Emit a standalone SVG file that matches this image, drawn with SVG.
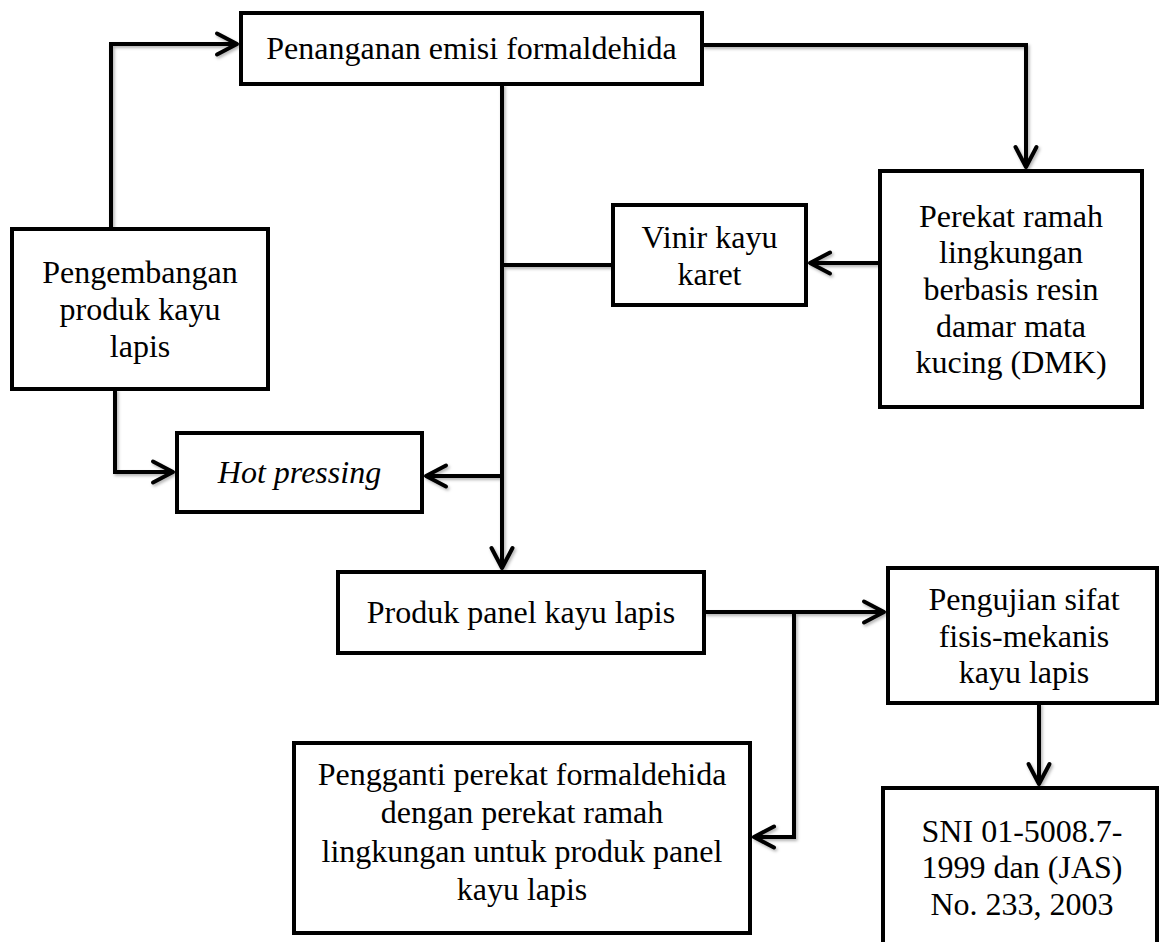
<svg xmlns="http://www.w3.org/2000/svg" width="1160" height="942" viewBox="0 0 1160 942">
<style>
.box{fill:#fff;stroke:#000;stroke-width:4}
.t{font-family:"Liberation Serif","Times New Roman",serif;font-size:32px;fill:#000;text-anchor:middle}
.i{font-style:italic}
.c{fill:none;stroke:#000;stroke-width:4;stroke-linejoin:miter}
</style>
<defs>
<marker id="arr" markerUnits="userSpaceOnUse" markerWidth="34" markerHeight="34" viewBox="-28 -17 34 34" refX="0" refY="0" orient="auto">
<path d="M-20,-10.5 L0,0 L-20,10.5" fill="none" stroke="#000" stroke-width="4" stroke-linecap="round" stroke-linejoin="round"/>
</marker>
<filter id="sh" x="-10%" y="-10%" width="120%" height="120%">
<feDropShadow dx="1.5" dy="2" stdDeviation="1.5" flood-color="#000" flood-opacity="0.3"/>
</filter>
</defs>
<rect width="1160" height="942" fill="#fff"/>
<g id="connectors" filter="url(#sh)">
<path class="c" d="M111,229 L111,44 L237,44" marker-end="url(#arr)"/>
<path class="c" d="M702,45 L1026,45 L1026,167" marker-end="url(#arr)"/>
<path class="c" d="M502,84 L502,568" marker-end="url(#arr)"/>
<path class="c" d="M502,265 L613,265"/>
<path class="c" d="M880,263 L810,263" marker-end="url(#arr)"/>
<path class="c" d="M502,476 L426,476" marker-end="url(#arr)"/>
<path class="c" d="M115,389 L115,472 L173,472" marker-end="url(#arr)"/>
<path class="c" d="M704,612 L884,612" marker-end="url(#arr)"/>
<path class="c" d="M794,612 L794,837 L754,837" marker-end="url(#arr)"/>
<path class="c" d="M1039,703 L1039,784" marker-end="url(#arr)"/>
</g>
<g id="n-penanganan">
<rect class="box" x="241" y="13" width="461" height="71"/>
<text class="t" x="471.5" y="59">Penanganan emisi formaldehida</text>
</g>
<g id="n-pengembangan">
<rect class="box" x="12" y="229" width="256" height="160"/>
<text class="t" x="140" y="283">Pengembangan</text>
<text class="t" x="140" y="320">produk kayu</text>
<text class="t" x="140" y="357">lapis</text>
</g>
<g id="n-vinir">
<rect class="box" x="613" y="205" width="193" height="100"/>
<text class="t" x="709.5" y="248">Vinir kayu</text>
<text class="t" x="709.5" y="285">karet</text>
</g>
<g id="n-perekat">
<rect class="box" x="880" y="171" width="262" height="236"/>
<text class="t" x="1011" y="227">Perekat ramah</text>
<text class="t" x="1011" y="263">lingkungan</text>
<text class="t" x="1011" y="300">berbasis resin</text>
<text class="t" x="1011" y="337">damar mata</text>
<text class="t" x="1011" y="373">kucing (DMK)</text>
</g>
<g id="n-hotpressing">
<rect class="box" x="177" y="433" width="245" height="79"/>
<text class="t i" x="299.5" y="483">Hot pressing</text>
</g>
<g id="n-produk">
<rect class="box" x="338" y="572" width="366" height="81"/>
<text class="t" x="521" y="623">Produk panel kayu lapis</text>
</g>
<g id="n-pengujian">
<rect class="box" x="888" y="568" width="269" height="135"/>
<text class="t" x="1024" y="610">Pengujian sifat</text>
<text class="t" x="1024" y="647">fisis-mekanis</text>
<text class="t" x="1024" y="683">kayu lapis</text>
</g>
<g id="n-pengganti">
<rect class="box" x="294" y="743" width="456" height="190"/>
<text class="t" x="522" y="785">Pengganti perekat formaldehida</text>
<text class="t" x="522" y="823">dengan perekat ramah</text>
<text class="t" x="522" y="862">lingkungan untuk produk panel</text>
<text class="t" x="522" y="900">kayu lapis</text>
</g>
<g id="n-sni">
<rect class="box" x="883" y="788" width="274" height="190"/>
<text class="t" x="1022" y="842">SNI 01-5008.7-</text>
<text class="t" x="1022" y="878">1999 dan (JAS)</text>
<text class="t" x="1022" y="915">No. 233, 2003</text>
</g>
</svg>
